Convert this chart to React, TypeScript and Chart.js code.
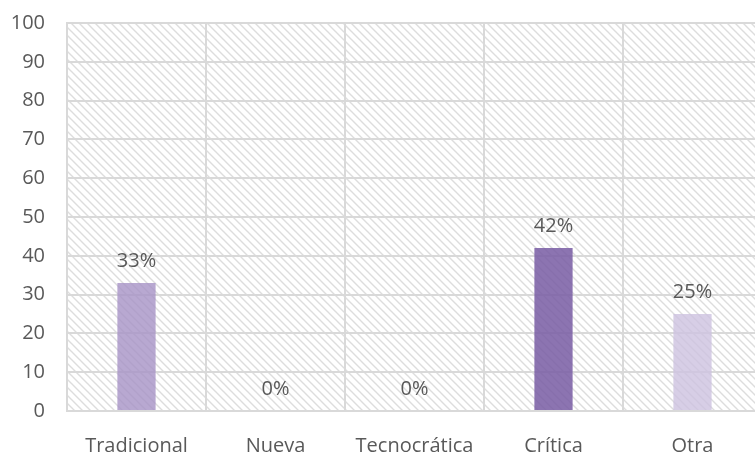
import React, { useEffect, useRef } from "react";
import { Chart, registerables } from "chart.js";

Chart.register(...registerables);

const categories = ["Tradicional", "Nueva", "Tecnocrática", "Crítica", "Otra"];
const values = [33, 0, 0, 42, 25];
const valueLabels = ["33%", "0%", "0%", "42%", "25%"];
const barColors = [
  "rgba(166,146,198,0.8)",
  "rgba(166,146,198,0.8)",
  "rgba(166,146,198,0.8)",
  "rgba(120,92,163,0.85)",
  "rgba(205,194,224,0.8)",
];
const yTicks = [0, 10, 20, 30, 40, 50, 60, 70, 80, 90, 100];

const FONT = "'Open Sans', sans-serif";

function makePattern(ctx: CanvasRenderingContext2D) {
  const c = document.createElement("canvas");
  c.width = 8;
  c.height = 8;
  const p = c.getContext("2d")!;
  p.strokeStyle = "#dddddd";
  p.lineWidth = 1.4;
  p.beginPath();
  p.moveTo(-2, -2);
  p.lineTo(10, 10);
  p.moveTo(-10, -2);
  p.lineTo(2, 10);
  p.moveTo(6, -2);
  p.lineTo(18, 10);
  p.stroke();
  return ctx.createPattern(c, "repeat")!;
}

const hatchPlugin = {
  id: "hatch",
  beforeDraw(chart: any) {
    const { ctx, chartArea } = chart;
    ctx.save();
    ctx.fillStyle = "#ffffff";
    ctx.fillRect(0, 0, chart.width, chart.height);
    ctx.fillStyle = makePattern(ctx);
    ctx.fillRect(chartArea.left, chartArea.top, chartArea.right - chartArea.left, chartArea.bottom - chartArea.top);
    ctx.restore();
  },
};

const labelPlugin = {
  id: "valueLabels",
  afterDatasetsDraw(chart: any) {
    const { ctx } = chart;
    const meta = chart.getDatasetMeta(0);
    ctx.save();
    ctx.font = `20px ${FONT}`;
    ctx.fillStyle = "#595959";
    ctx.textAlign = "center";
    ctx.textBaseline = "bottom";
    meta.data.forEach((bar: any, i: number) => {
      ctx.fillText(valueLabels[i], bar.x, bar.y - 12);
    });
    ctx.restore();
  },
};

export default function App() {
  const ref = useRef<HTMLCanvasElement>(null);
  useEffect(() => {
    const canvas = ref.current!;
    const chart = new Chart(canvas, {
      type: "bar",
      data: {
        labels: categories,
        datasets: [
          {
            data: values,
            backgroundColor: barColors,
            borderWidth: 0,
            barPercentage: 0.55,
            categoryPercentage: 0.5,
          },
        ],
      },
      options: {
        responsive: false,
        animation: false,
        devicePixelRatio: 1,
        layout: { padding: { top: 23, right: 0, left: 0, bottom: 0 } },
        plugins: { legend: { display: false }, tooltip: { enabled: false }, title: { display: false } },
        scales: {
          x: {
            grid: { display: true, offset: true, color: "#d9d9d9", lineWidth: 2, drawTicks: false },
            border: { display: true, color: "#d9d9d9", width: 2 },
            ticks: { font: { family: FONT, size: 20 }, color: "#595959", padding: 23 },
            afterFit: (s: any) => {
              s.height = 41;
              s.paddingLeft = 0;
              s.paddingRight = 0;
            },
          },
          y: {
            min: 0,
            max: 100,
            afterBuildTicks: (s: any) => {
              s.ticks = yTicks.map((v) => ({ value: v }));
            },
            grid: { color: "#d9d9d9", lineWidth: 2, drawTicks: false },
            border: { display: true, color: "#d9d9d9", width: 2 },
            ticks: { font: { family: FONT, size: 20 }, color: "#595959", padding: 22 },
            afterFit: (s: any) => {
              s.width = 67;
              s.paddingTop = 0;
              s.paddingBottom = 0;
            },
          },
        },
      },
      plugins: [hatchPlugin, labelPlugin],
    });
    return () => chart.destroy();
  }, []);
  return (
    <div style={{ position: "fixed", left: 0, top: 0, width: 755, height: 452, overflow: "hidden", background: "#fff" }}>
      <canvas ref={ref} width={762} height={452} style={{ display: "block", width: 762, height: 452 }} />
    </div>
  );
}
